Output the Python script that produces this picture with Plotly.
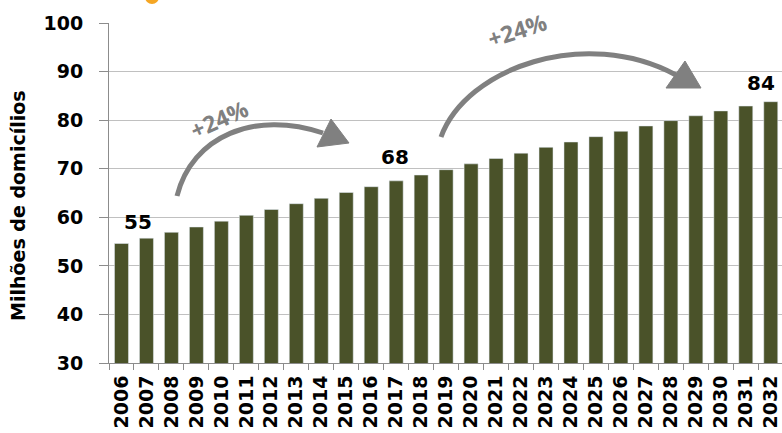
import plotly.graph_objects as go

years = ["2006", "2007", "2008", "2009", "2010", "2011", "2012", "2013", "2014",
         "2015", "2016", "2017", "2018", "2019", "2020", "2021", "2022", "2023",
         "2024", "2025", "2026", "2027", "2028", "2029", "2030", "2031", "2032"]
domicilios = [54.6, 55.7, 56.9, 58.0, 59.2, 60.4, 61.6, 62.8, 63.9, 65.1, 66.3, 67.5,
              68.7, 69.8, 71.0, 72.1, 73.2, 74.4, 75.5, 76.6, 77.7, 78.8, 79.9, 80.9,
              81.9, 82.9, 83.8]
y_ticks = [30, 40, 50, 60, 70, 80, 90, 100]

# highlighted value labels: (category index, y, text)
value_labels = [(0.66, 59.0, "55"), (10.97, 72.4, "68"), (25.62, 87.6, "84")]
growth_label = "+24%"

BAR = "#4a5229"
GREY = "#808080"
FONT = "DejaVu Sans"

# plot area geometry in pixels (for paper-coordinate decorations)
L, R, T, B = 109, 782, 23, 363
W, H = R - L, B - T


def px(x, y):
    return (x - L) / W, (B - y) / H


def bezier_path(pts):
    (a, b), (c, d), (e, f), (g, h) = [px(*p) for p in pts]
    return f"M {a},{b} C {c},{d} {e},{f} {g},{h}"


def tri_path(pts):
    p = [px(*q) for q in pts]
    return f"M {p[0][0]},{p[0][1]} L {p[1][0]},{p[1][1]} L {p[2][0]},{p[2][1]} Z"


fig = go.Figure(go.Bar(x=years, y=domicilios, marker_color=BAR, width=0.56,
                       hoverinfo="x+y"))

shapes = []
# white masks behind labels (break gridlines)
for (x0, x1, yv) in [(167, 262, 121), (466, 568, 23), (745, 782, 72)]:
    a0, b0 = px(x0, yv + 2)
    a1, b1 = px(x1, yv - 2)
    shapes.append(dict(type="rect", xref="paper", yref="paper", x0=a0, x1=a1, y0=b0, y1=b1,
                       fillcolor="white", line_width=0, layer="between"))
# curved arrows
shapes.append(dict(type="path", xref="paper", yref="paper",
                   path=bezier_path([(177, 196), (192, 136), (255, 110), (323, 133)]),
                   line=dict(color=GREY, width=5), layer="above"))
shapes.append(dict(type="path", xref="paper", yref="paper",
                   path=tri_path([(317, 147), (331, 119), (349, 143)]),
                   fillcolor=GREY, line=dict(color=GREY, width=1), layer="above"))
shapes.append(dict(type="path", xref="paper", yref="paper",
                   path=bezier_path([(441, 137), (466, 68), (585, 26), (676, 75)]),
                   line=dict(color=GREY, width=5), layer="above"))
shapes.append(dict(type="path", xref="paper", yref="paper",
                   path=tri_path([(666, 88), (685, 61), (701, 88)]),
                   fillcolor=GREY, line=dict(color=GREY, width=1), layer="above"))
# orange bullet of the (cropped) title
c0 = px(145, 4)
c1 = px(159, -10)
shapes.append(dict(type="circle", xref="paper", yref="paper", x0=c0[0], x1=c1[0],
                   y0=c0[1], y1=c1[1], fillcolor="#f5a623", line_width=0))

annotations = []
for (xi, yv, t) in value_labels:
    annotations.append(dict(x=xi, y=yv, xref="x", yref="y", text=t, showarrow=False,
                            xanchor="center", yanchor="middle",
                            font=dict(family=FONT, size=20, color="black", weight="bold")))
for (cx, cy, ang) in [(219, 119, -24), (517, 30, -18)]:
    ax, ay = px(cx, cy)
    annotations.append(dict(x=ax, y=ay, xref="paper", yref="paper", text=growth_label,
                            showarrow=False, textangle=ang, xanchor="center", yanchor="middle",
                            font=dict(family="Open Sans", size=23, color=GREY, weight="bold")))
tx, ty = px(18, 206)
annotations.append(dict(x=tx, y=ty, xref="paper", yref="paper", text="Milhões de domicílios",
                        showarrow=False, textangle=-90, xanchor="center", yanchor="middle",
                        font=dict(family=FONT, size=19, color="black", weight="bold")))

fig.update_layout(
    width=782, height=433,
    margin=dict(l=L, r=0, t=T, b=433 - B, autoexpand=False),
    paper_bgcolor="white", plot_bgcolor="white",
    showlegend=False,
    shapes=shapes,
    annotations=annotations,
    xaxis=dict(type="category", range=[-0.5, 26.45], tickangle=-90, tickson="boundaries",
               ticks="outside", ticklen=6, tickcolor="#8c8c8c", showline=True,
               linecolor="#8c8c8c", linewidth=1, showgrid=False, ticklabelstandoff=4,
               automargin=False,
               tickfont=dict(family=FONT, size=19, color="black", weight="bold")),
    yaxis=dict(range=[30, 100], tickvals=y_ticks, ticks="outside", ticklen=9,
               tickcolor="#8c8c8c", showline=True, linecolor="#8c8c8c", linewidth=1,
               showgrid=True, gridcolor="#c0c0c0", gridwidth=1, zeroline=False,
               ticklabelstandoff=12, automargin=False,
               tickfont=dict(family=FONT, size=19, color="black", weight="bold")),
)

fig.write_html("out.html")
